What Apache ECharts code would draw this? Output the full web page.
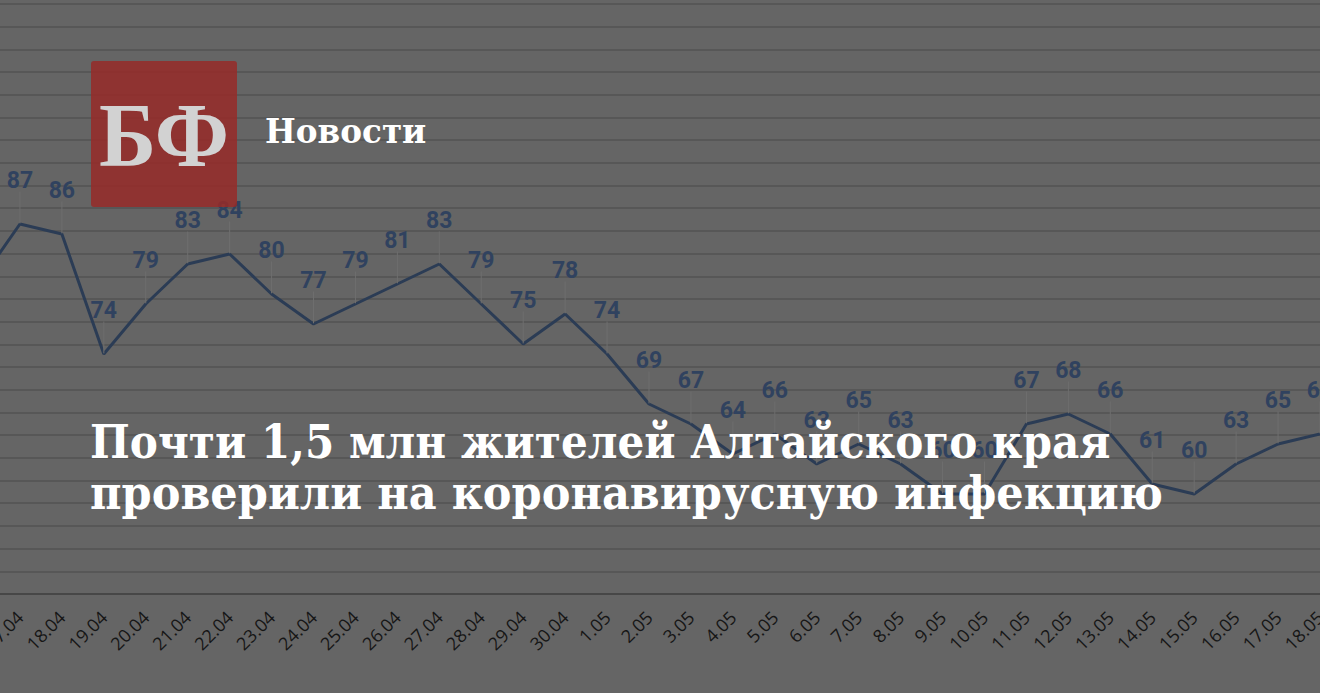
<!DOCTYPE html>
<html>
<head>
<meta charset="utf-8">
<script src="https://cdn.jsdelivr.net/npm/echarts@6/dist/echarts.min.js"></script>
<style>
  html, body { margin: 0; padding: 0; background: #656565; }
  #main { width: 1320px; height: 693px; }
</style>
</head>
<body>
<div id="main"></div>
<script>
// даты (16.04 и 18.05 обрезаны краями картинки)
const categories = ['16.04', '17.04', '18.04', '19.04', '20.04', '21.04', '22.04', '23.04', '24.04',
  '25.04', '26.04', '27.04', '28.04', '29.04', '30.04', '1.05', '2.05', '3.05', '4.05', '5.05',
  '6.05', '7.05', '8.05', '9.05', '10.05', '11.05', '12.05', '13.05', '14.05', '15.05', '16.05',
  '17.05', '18.05'];
// значения на точках
const values = [81, 87, 86, 74, 79, 83, 84, 80, 77, 79, 81, 83, 79, 75, 78, 74, 69, 67, 64, 66,
  63, 65, 63, 60, 60, 67, 68, 66, 61, 60, 63, 65, 66];
const brand = 'БФ';
const section = 'Новости';
const titleLines = ['Почти 1,5 млн жителей Алтайского края', 'проверили на коронавирусную инфекцию'];

const chart = echarts.init(document.getElementById('main'), null, { renderer: 'svg' });
chart.setOption({
  animation: false,
  backgroundColor: '#656565',
  grid: { left: -22, right: 0, top: 4, bottom: 99, containLabel: false, outerBoundsMode: 'none' },
  xAxis: {
    type: 'category',
    data: categories,
    boundaryGap: false,
    axisLine: { lineStyle: { color: '#474747', width: 2 } },
    axisTick: { show: false },
    axisLabel: { interval: 0, rotate: 45, margin: 20, fontSize: 18, color: '#161616', fontFamily: 'Open Sans' },
    splitLine: { show: false }
  },
  yAxis: [
    { type: 'value', min: 50, max: 109, show: false, splitLine: { show: false } },
    // только сетка фона
    {
      type: 'value', min: 0, max: 26, interval: 1,
      axisLine: { show: false }, axisTick: { show: false }, axisLabel: { show: false },
      splitLine: { lineStyle: { color: '#575757', width: 2 } }
    }
  ],
  series: [{
    type: 'line',
    data: values,
    yAxisIndex: 0,
    symbol: 'circle',
    symbolSize: 1,
    silent: true,
    lineStyle: { color: '#2b3c55', width: 3 },
    itemStyle: { color: '#2b3c55' },
    label: {
      show: true, position: 'top', distance: 4,
      color: '#30425f', fontSize: 23, fontWeight: 'bold', fontFamily: 'Roboto'
    },
    labelLayout: { dy: -28 },
    labelLine: { show: true, lineStyle: { color: '#6e6e6e', width: 1 } }
  }],
  graphic: [
    { type: 'rect', z: 100, shape: { x: 91, y: 61, width: 146, height: 146, r: 3 },
      style: { fill: 'rgba(150,42,40,0.85)' } },
    { type: 'text', z: 101, x: 164, y: 135, scaleX: 0.94,
      style: { text: brand, font: 'bold 92px "Liberation Serif"', fill: '#d2d2d2', align: 'center', verticalAlign: 'middle' } },
    { type: 'text', z: 101, x: 265, y: 131, scaleX: 0.96,
      style: { text: section, font: 'bold 34px "DejaVu Serif"', fill: '#ffffff', verticalAlign: 'middle' } },
    { type: 'text', z: 101, x: 90, y: 442, scaleX: 0.917,
      style: { text: titleLines[0], font: 'bold 46px "DejaVu Serif"', fill: '#ffffff', verticalAlign: 'middle' } },
    { type: 'text', z: 101, x: 90, y: 493, scaleX: 0.937,
      style: { text: titleLines[1], font: 'bold 46px "DejaVu Serif"', fill: '#ffffff', verticalAlign: 'middle' } }
  ]
});
</script>
</body>
</html>
